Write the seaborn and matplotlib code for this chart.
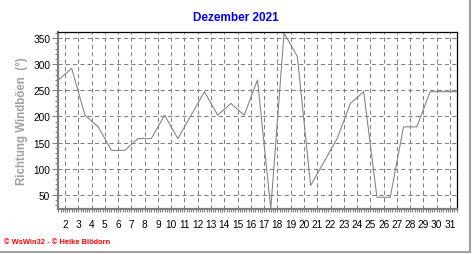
import numpy as np
import pandas as pd
import matplotlib
matplotlib.use("Agg")
import matplotlib.pyplot as plt
import seaborn as sns
from matplotlib.ticker import FixedLocator, MultipleLocator
from matplotlib.lines import Line2D

# ---- data ----
days = list(range(1, 32))
direction = [270, 292.5, 202.5, 180, 135, 135, 157.5, 157.5, 202.5, 157.5,
             202.5, 247.5, 202.5, 225, 202.5, 270, 22.5, 360, 315, 67.5,
             112.5, 157.5, 225, 247.5, 45, 45, 180, 180, 247.5, 247.5, 247.5]
tick_labels = [str(d) for d in range(2, 32)]
y_ticks = [50, 100, 150, 200, 250, 300, 350]
title = "Dezember 2021"
ylabel = "Richtung Windböen  (°)"
footer = "\u00a9 WsWin32 - \u00a9 Heike Blödorn"

sns.set_theme(style="white")
plt.rcParams['font.family'] = ['Liberation Sans', 'DejaVu Sans']

W, H = 472, 255
fig = plt.figure(figsize=(W / 100, H / 100), dpi=100)
fig.patch.set_facecolor("white")
ax = fig.add_axes([58.4 / W, 1 - 210 / H, (456.6 - 58.4) / W, (210 - 33) / H])

df = pd.DataFrame({"day": days, "dir": direction})
sns.lineplot(data=df, x="day", y="dir", ax=ax, color="#808080", linewidth=0.75)

ax.set_xlim(days[0], days[-1])
ax.set_ylim(22.5, 362)

ax.xaxis.set_major_locator(FixedLocator([d + 0.5 for d in days[:-1]]))
ax.set_xticklabels(tick_labels)
ax.xaxis.set_minor_locator(MultipleLocator(1 / 6))
ax.yaxis.set_major_locator(FixedLocator(y_ticks))
ax.yaxis.set_minor_locator(MultipleLocator(10))

grid_kw = dict(color="#808080", linewidth=0.75, linestyle=(0, (4, 3)))
ax.grid(True, which="major", axis="both", **grid_kw)

ax.set_xlabel("")
ax.set_ylabel("")

ax.tick_params(axis="x", which="both", direction="out", length=2, width=0.75,
               color="#808080", labelsize=7.3, pad=5.5, labelcolor="black")
ax.tick_params(axis="y", which="major", direction="out", length=4, width=0.75,
               color="#808080", labelsize=7.3, pad=2, labelcolor="black")
ax.tick_params(axis="y", which="minor", direction="out", length=2, width=0.75,
               color="#808080")
ax.tick_params(bottom=True, left=True, which="both")

for s in ("left", "bottom"):
    ax.spines[s].set_color("#808080")
    ax.spines[s].set_linewidth(1.6)
for s in ("top", "right"):
    ax.spines[s].set_color("black")
    ax.spines[s].set_linewidth(0.9)
for s in ax.spines.values():
    s.set_visible(True)

fig.text(236 / W, 1 - 18 / H, title, ha="center", va="center",
         color="#0000ee", fontsize=8.5, fontweight="bold")
fig.text(22 / W, 1 - 121 / H, ylabel, ha="center", va="center", rotation=90,
         color="#a0a0a0", fontsize=8.3, fontweight="bold")
fig.text(4 / W, 1 - 243 / H, footer, ha="left", va="center",
         color="#ff0000", fontsize=5.4, fontweight="bold")

fig.add_artist(Line2D([470 / W, 470 / W], [1 - 253 / H, 1], color="#a0a0a0",
                      linewidth=1.5, transform=fig.transFigure))
fig.add_artist(Line2D([0, 470 / W], [1 - 253 / H, 1 - 253 / H], color="#a0a0a0",
                      linewidth=1.5, transform=fig.transFigure))

fig.savefig("out.png", dpi=100, facecolor="white")
